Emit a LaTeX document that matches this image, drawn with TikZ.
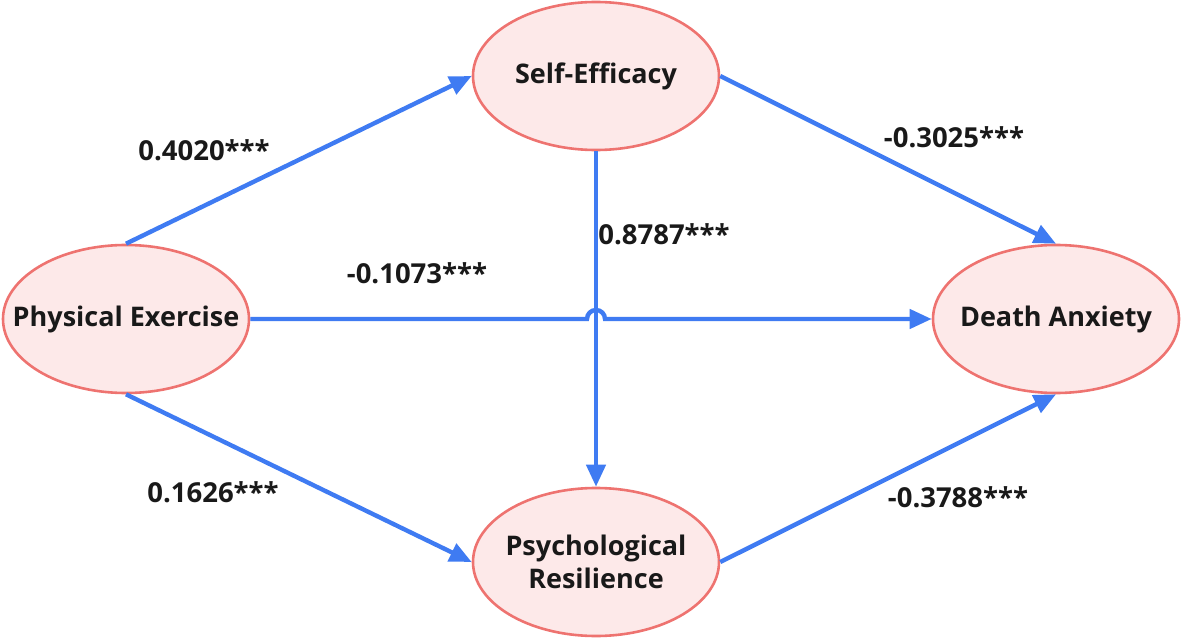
\documentclass[tikz,border=0pt]{standalone}
\usepackage{fontspec}
\setmainfont{Open Sans}
\usetikzlibrary{arrows.meta,shapes.geometric,calc}
\definecolor{arrowblue}{HTML}{3F7BF2}
\definecolor{ellstroke}{HTML}{EE7370}
\definecolor{ellfill}{HTML}{FDE9E9}
\tikzset{
  var/.style={ellipse, draw=ellstroke, fill=ellfill, line width=2.6pt,
    minimum width=246pt, minimum height=148pt, inner xsep=-35pt, inner ysep=0pt,
    font=\fontsize{27}{33}\selectfont\bfseries, align=center, text=black!90},
  path/.style={draw=arrowblue, line width=4.4pt,
    -{Triangle[length=22pt,width=19pt]}},
  coef/.style={font=\fontsize{27.5}{33}\selectfont\bfseries, text=black!90, inner sep=0pt}
}
\begin{document}
\begin{tikzpicture}[x=1pt,y=-1pt]
\useasboundingbox (0,0) rectangle (1181,639);
\node[var] (PE) at (126,319) {Physical Exercise};
\node[var] (SE) at (596,76) {Self-Efficacy};
\node[var] (DA) at (1056,319) {Death Anxiety};
\node[var] (PR) at (596,562) {Psychological\\Resilience};

\draw[path] (PE.north) -- (SE.west);
\draw[path] (PE.south) -- (PR.west);
\draw[path] (SE.east) -- (DA.north);
\draw[path] (PR.east) -- (DA.south);
\draw[path] (SE.south) -- (PR.north);
\coordinate (X) at (PE.east -| SE.south);
\draw[path] (PE.east) -- ([xshift=-9pt]X) arc[start angle=180,end angle=0,radius=9pt] -- (DA.west);

\node[coef] (c1) at (204,150) {0.4020***};
\node[coef] (c2) at (954,137) {-0.3025***};
\node[coef] (c3) at (664,234) {0.8787***};
\node[coef] (c4) at (417,273) {-0.1073***};
\node[coef] (c5) at (213,492) {0.1626***};
\node[coef] (c6) at (958,497) {-0.3788***};
\end{tikzpicture}
\end{document}
